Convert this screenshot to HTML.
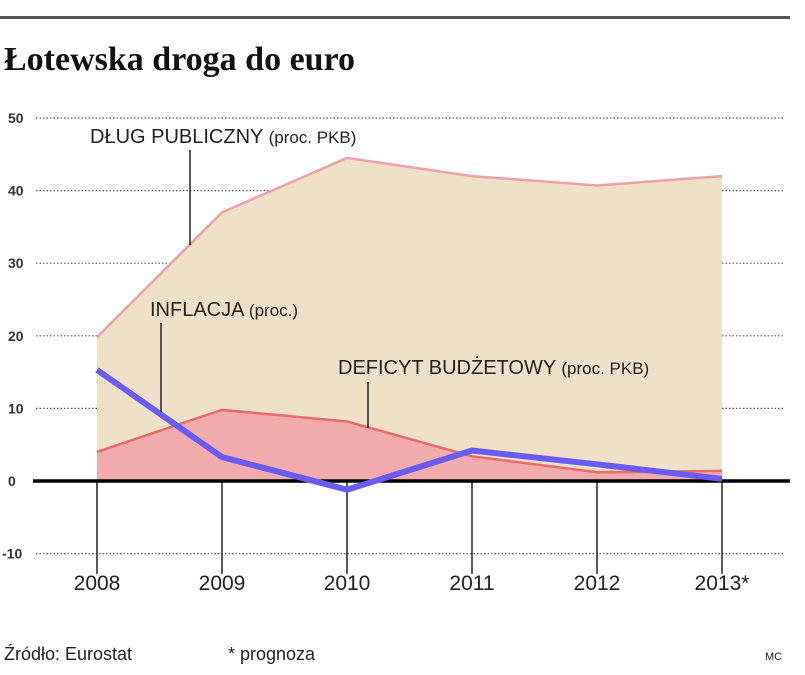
<!DOCTYPE html>
<html><head><meta charset="utf-8"><style>
body{margin:0;background:#fff;width:805px;height:670px;overflow:hidden;font-family:"Liberation Sans",sans-serif}
</style></head><body>
<svg width="805" height="670" xmlns="http://www.w3.org/2000/svg">
<rect x="0" y="16" width="790" height="3" fill="#555"/>
<text x="4" y="70" font-family="Liberation Serif,serif" font-weight="bold" font-size="34" fill="#111">Łotewska droga do euro</text>
<g id="grid"></g>
<g id="marks"></g>
<text x="4" y="660" font-size="18" fill="#222">Źródło: Eurostat</text>
<text x="228" y="660" font-size="18" fill="#222">* prognoza</text>
<text x="765" y="660" font-size="11" fill="#222">MC</text>
</svg>
<script>
const years=["2008","2009","2010","2011","2012","2013*"];
const debt=[19.8,37,44.5,42,40.7,42];
const deficit=[4,9.8,8.2,3.4,1.2,1.4];
const inflation=[15.3,3.3,-1.2,4.2,2.3,0.3];
const yTicks=[50,40,30,20,10,0,-10];
const NS="http://www.w3.org/2000/svg";
const X=i=>97+i*125;
const Y=v=>481-v*7.26;
function mk(t,a,p){const e=document.createElementNS(NS,t);for(const k in a)e.setAttribute(k,a[k]);p.appendChild(e);return e;}
const grid=document.getElementById('grid'),marks=document.getElementById('marks');
yTicks.forEach(v=>{
  if(v!==0){const l=mk('line',{x1:36,x2:785,y1:Y(v),y2:Y(v),stroke:'#555','stroke-width':1.2,'stroke-dasharray':'1.5,2'},grid);
  
  }
  const t=mk('text',{x:v<0?2:8,y:Y(v)+5,'font-size':14,'font-weight':'bold',fill:'#333'},grid);t.textContent=v;
  
  
});
function area(arr,fill,stroke,name){
  let d='M'+X(0)+','+Y(0);arr.forEach((v,i)=>d+='L'+X(i)+','+Y(v));d+='L'+X(arr.length-1)+','+Y(0)+'Z';
  const a=mk('path',{d:d,fill:fill},marks);
  
  
  const l=mk('polyline',{points:arr.map((v,i)=>X(i)+','+Y(v)).join(' '),fill:'none',stroke:stroke,'stroke-width':2.5},marks);
  
  
}
area(debt,'#efe0c8','#f0a0a8','debt');
area(deficit,'#f2abad','#ec6a6a','deficit');
years.forEach((y,i)=>{
  const l=mk('line',{x1:X(i),x2:X(i),y1:Y(0),y2:Y(-12.8),stroke:'#222','stroke-width':1.5},marks);
  
  
  const t=mk('text',{x:X(i),y:590,'font-size':21,fill:'#222','text-anchor':'middle'},marks);t.textContent=y;
  
  
});
const z=mk('line',{x1:33,x2:790,y1:Y(0),y2:Y(0),stroke:'#000','stroke-width':3.5},marks);


const inf=mk('polyline',{points:inflation.map((v,i)=>X(i)+','+Y(v)).join(' '),fill:'none',stroke:'#6a5cf2','stroke-width':6,'stroke-linejoin':'round'},marks);


[[190,150,245],[161,323,412],[368,382,428]].forEach(c=>{
  const l=mk('line',{x1:c[0],x2:c[0],y1:c[1],y2:c[2],stroke:'#222','stroke-width':1.5},marks);
  
  
});
[[90,143,'DŁUG PUBLICZNY','(proc. PKB)','debt-label'],[150,316,'INFLACJA','(proc.)','inflation-label'],[338,374,'DEFICYT BUDŻETOWY','(proc. PKB)','deficit-label']].forEach(c=>{
  const t=mk('text',{x:c[0],y:c[1],'font-size':20,fill:'#222'},marks);
  
  
  t.innerHTML=c[2]+' <tspan font-size="17">'+c[3]+'</tspan>';
});
</script>
</body></html>
